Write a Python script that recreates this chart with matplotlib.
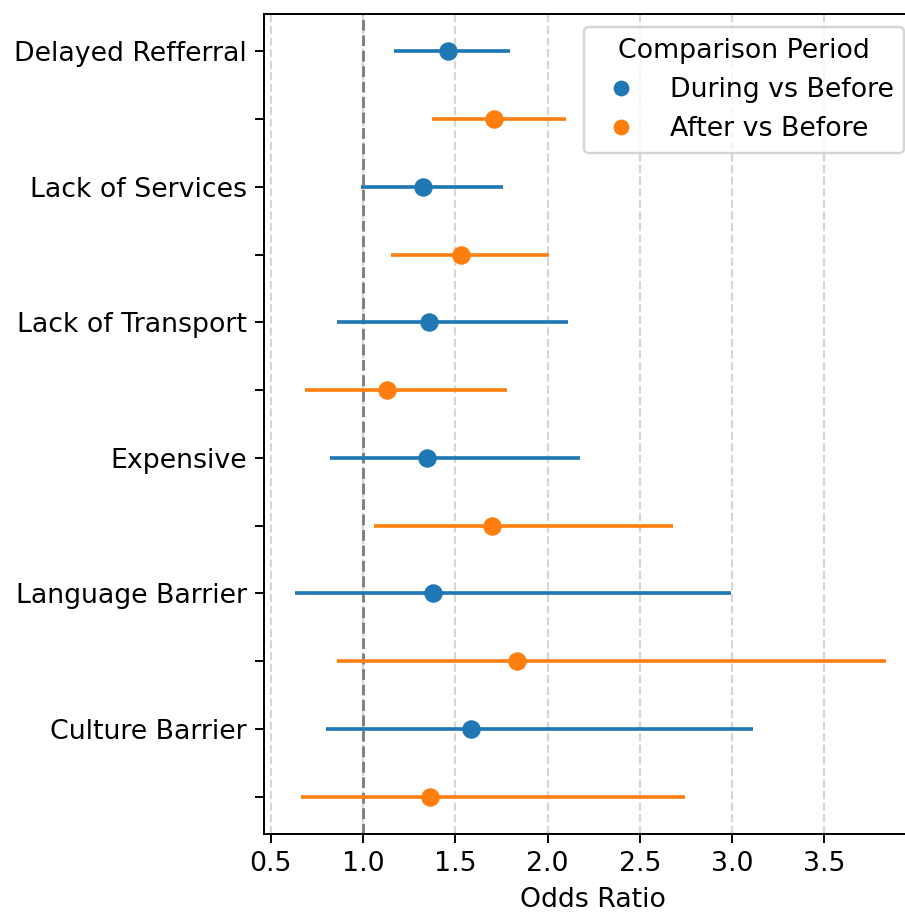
import matplotlib
matplotlib.use("Agg")
import matplotlib.pyplot as plt
from matplotlib.lines import Line2D

categories = ["Delayed Refferral", "Lack of Services", "Lack of Transport",
              "Expensive", "Language Barrier", "Culture Barrier"]
periods = ["During vs Before", "After vs Before"]
colors = ["#1f77b4", "#ff7f0e"]

during_or = [1.458, 1.325, 1.356, 1.347, 1.377, 1.585]
during_lo = [1.166, 0.989, 0.862, 0.821, 0.630, 0.800]
during_hi = [1.798, 1.756, 2.110, 2.173, 2.996, 3.111]

after_or = [1.710, 1.532, 1.130, 1.700, 1.834, 1.365]
after_lo = [1.374, 1.153, 0.684, 1.061, 0.862, 0.666]
after_hi = [2.101, 2.006, 1.778, 2.677, 3.834, 2.746]

xticks = [0.5, 1.0, 1.5, 2.0, 2.5, 3.0, 3.5]

plt.rcParams["font.size"] = 11
dpi = 175
fig = plt.figure(figsize=(905 / dpi, 917 / dpi), dpi=dpi)
right_px = 922
ax = fig.add_axes([264 / 905, 83 / 917, (right_px - 264) / 905, (834 - 14) / 917])

series = [(during_or, during_lo, during_hi), (after_or, after_lo, after_hi)]
for k, (orv, lo, hi) in enumerate(series):
    ys = [2 * i + k for i in range(len(categories))]
    ax.hlines(ys, lo, hi, color=colors[k], lw=1.5, zorder=3)
    ax.scatter(orv, ys, s=58, color=colors[k], zorder=4, linewidths=0)

ax.axvline(1.0, color="gray", ls="--", lw=1.2, zorder=2)
ax.grid(axis="x", ls="--", color="#cccccc", lw=0.9, alpha=0.8)
ax.set_axisbelow(True)

n = 2 * len(categories)
ax.set_yticks(range(n))
ax.set_yticklabels([categories[i // 2] if i % 2 == 0 else "" for i in range(n)])
ax.set_ylim(n - 1 + 0.55, -0.55)
ax.set_xticks(xticks)
ax.set_xlim(0.464, 0.5 + (right_px - 270.7) / 184.6)
ax.set_xlabel("Odds Ratio")

handles = [Line2D([], [], marker="o", ls="none", color=c, markersize=5.5) for c in colors]
ax.legend(handles, periods, title="Comparison Period", loc="upper left",
          bbox_to_anchor=(584 / 905, 1 - 27 / 917), bbox_transform=fig.transFigure,
          borderaxespad=0)

fig.savefig("out.png", dpi=dpi)
